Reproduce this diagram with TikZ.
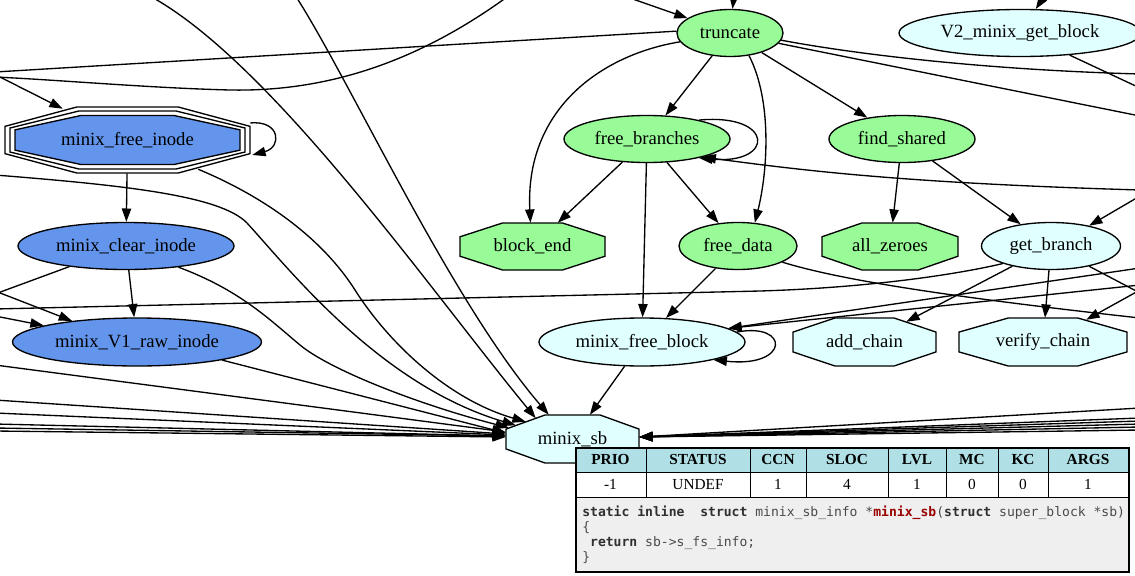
\documentclass[tikz,border=0pt]{standalone}
\usepackage{fontspec}
\setmainfont{Liberation Serif}
\newfontfamily\codefont{DejaVu Sans Mono}
\usetikzlibrary{arrows.meta,shapes.geometric,calc}
\definecolor{pgreen}{HTML}{98FB98}
\definecolor{lcyan}{HTML}{E0FFFF}
\definecolor{cblue}{HTML}{6495ED}
\definecolor{pblue}{HTML}{B0E0E6}
\definecolor{codebg}{HTML}{EFEFEF}
\definecolor{codefg}{HTML}{4A4A4A}
\definecolor{codekw}{HTML}{303030}
\definecolor{codefn}{HTML}{990000}
\newcommand\octshape[5]{%
  \path[#5] ({#1-0.207*#3},{#2-#4/2}) -- ({#1+0.207*#3},{#2-#4/2}) -- ({#1+#3/2},{#2-0.207*#4}) -- ({#1+#3/2},{#2+0.207*#4}) -- ({#1+0.207*#3},{#2+#4/2}) -- ({#1-0.207*#3},{#2+#4/2}) -- ({#1-#3/2},{#2+0.207*#4}) -- ({#1-#3/2},{#2-0.207*#4}) -- cycle;}
\newcommand\ckw[1]{\textcolor{codekw}{\textbf{#1}}}
\begin{document}
\begin{tikzpicture}[x=0.75pt,y=-0.75pt,
  nfont/.style={font=\fontsize{14}{16}\selectfont},
  sz/.style 2 args={minimum width=#1*0.75pt,minimum height=#2*0.75pt},
  ell/.style={ellipse,draw,line width=1pt,inner sep=0pt,nfont},
  obox/.style={rectangle,inner sep=0pt,nfont},
  ofill/.style={draw,line width=1pt},
  edge/.style={draw,line width=1pt},
  arr/.style={edge,-{Triangle[length=10pt,width=7pt]}},
  hcell/.style={draw,line width=0.75pt,fill=pblue,inner sep=0pt,minimum height=18.75pt,font=\bfseries\fontsize{11.5}{13}\selectfont},
  dcell/.style={draw,line width=0.75pt,fill=white,inner sep=0pt,minimum height=18.75pt,font=\fontsize{11.5}{13}\selectfont},
  cline/.style={anchor=base west,inner sep=0pt,text=codefg,font=\codefont\fontsize{9.8}{11}\selectfont}]
\useasboundingbox (0,0) rectangle (1135,575);
\clip (0,0) rectangle (1135,575);

% ---------- nodes ----------
\node[ell,fill=pgreen,sz={106}{47}] (tr) at (730,33) {truncate};
\node[ell,fill=lcyan,sz={242}{47}] (v2) at (1020,33) {V2\_minix\_get\_block};

\octshape{127.5}{140}{245}{66}{ofill}
\octshape{127.5}{140}{235}{58}{ofill}
\octshape{127.5}{140}{225}{49}{ofill,fill=cblue}
\node[obox,sz={245}{66}] (fi) at (127.5,140) {minix\_free\_inode};

\node[ell,fill=pgreen,sz={166}{47}] (fb) at (647,139) {free\_branches};
\node[ell,fill=pgreen,sz={146}{47}] (fs) at (902,139) {find\_shared};

\node[ell,fill=cblue,sz={216}{47}] (ci) at (126,246) {minix\_clear\_inode};
\octshape{532.5}{246.5}{145}{47}{ofill,fill=pgreen}
\node[obox,sz={145}{47}] (be) at (532.5,246.5) {block\_end};
\node[ell,fill=pgreen,sz={118}{47}] (fd) at (738,246) {free\_data};
\octshape{890}{246.5}{136}{47}{ofill,fill=pgreen}
\node[obox,sz={136}{47}] (az) at (890,246.5) {all\_zeroes};
\node[ell,fill=lcyan,sz={139}{47}] (gb) at (1051,246) {get\_branch};

\node[ell,fill=cblue,sz={249}{48}] (v1) at (137,342) {minix\_V1\_raw\_inode};
\node[ell,fill=lcyan,sz={206}{48}] (fblk) at (642,342) {minix\_free\_block};
\octshape{864.5}{342}{143}{48}{ofill,fill=lcyan}
\node[obox,sz={143}{48}] (ac) at (864.5,342) {add\_chain};
\octshape{1043}{342}{168}{48}{ofill,fill=lcyan}
\node[obox,sz={168}{48}] (vc) at (1043,342) {verify\_chain};

\octshape{572.5}{439}{133}{48}{ofill,fill=lcyan}
\node[obox,sz={133}{48}] (sb) at (572.5,439) {minix\_sb};

% ---------- free ends outside the frame ----------
\coordinate (tA) at (627,-3);
\coordinate (tB) at (734,-5);
\coordinate (tC) at (1045,-5);
\coordinate (tD) at (148,-5);
\coordinate (tE) at (295,-5);
\coordinate (tF) at (507,-3);
\coordinate (lF) at (-5,77);
\coordinate (lG) at (-5,74.5);
\coordinate (lTr) at (-5,72);
\coordinate (lB) at (-5,175);
\coordinate (lCi) at (-5,294);
\coordinate (lV1a) at (-5,291);
\coordinate (lV1b) at (-5,316);
\coordinate (lGb) at (-5,309);
\coordinate (rT1) at (1140,74);
\coordinate (rT2) at (1140,116);
\coordinate (rV2) at (1140,88);
\coordinate (rFb) at (1140,190);
\coordinate (rGb) at (1140,196);
\coordinate (rFk1) at (1140,268);
\coordinate (rFk2) at (1140,285);
\coordinate (rGb2) at (1140,293);
\coordinate (rVc) at (1140,290);
\coordinate (rFd) at (1140,318);

% ---------- edges ----------
\draw[arr] (tA) -- (tr);
\draw[arr] (tB) -- (tr);
\draw[arr] (tC) -- (v2);
\draw[arr] (tr) -- (fb);
\draw[arr] (tr) -- (fs);
\draw[arr] (tr.190) .. controls (600,55) and (525,110) .. (be.95);
\draw[arr] (tr.310) .. controls (772,100) and (768,170) .. (fd.54);
\draw[edge] (tr.352) .. controls (860,55) and (990,70) .. (rT1);
\draw[edge] (tr.348) -- (rT2);
\draw[edge] (tr.178) -- (lTr);
\draw[edge] (tF) .. controls (420,60) and (330,92) .. (230,90) .. controls (150,88) and (60,80) .. (lF);
\draw[edge] (v2.-24) -- (rV2);

\draw[arr] (lG) -- ($(fi.north west)+(58,2)$);
\draw[arr] ($(fi.east)+(0,-17)$) .. controls +(30,-3) and +(30,-8) .. ($(fi.east)+(2,15)$);
\draw[arr] (fi) -- (ci);
\draw[arr] (ci) -- (v1);
\draw[edge] (ci.200) -- (lCi);
\draw[arr] (lV1a) -- (v1.162);
\draw[arr] (lV1b) -- (v1.170);

\draw[arr] (fb.20) .. controls (775,113) and (775,165) .. (fb.-20);
\draw[arr] (rFb) .. controls (900,183) and (800,170) .. (fb.-18);
\draw[arr] (fb) -- (be);
\draw[arr] (fb) -- (fblk);
\draw[arr] (fb) -- (fd);
\draw[arr] (fs) -- (az);
\draw[arr] (fs) -- (gb);
\draw[arr] (rGb) -- (gb.28);

\draw[edge] (gb.200) .. controls (950,276) and (860,288) .. (760,291) -- (lGb);
\draw[arr] (gb) -- ($(ac.north east)+(-30,4)$);
\draw[arr] (gb) -- (vc);
\draw[edge] (gb.-28) -- (rGb2);
\draw[arr] (rVc) -- ($(vc.north east)+(-41,2)$);
\draw[edge] (fd.-20) .. controls (840,280) and (950,297) .. (rFd);
\draw[arr] (fd) -- (fblk);

\draw[arr] (rFk1) -- (fblk.9);
\draw[arr] (rFk2) -- (fblk.9);
\draw[arr] (fblk.6) .. controls (790,322) and (790,368) .. (fblk.-14);
\draw[arr] (fblk) -- (sb);

% fan into minix_sb from the left
\draw[arr] (tE) .. controls (350,80) and (450,300) .. ($(sb.north west)+(43,0)$);
\draw[arr] (tD) .. controls (270,60) and (430,290) .. ($(sb.north west)+(30,3.5)$);
\draw[arr] ($(fi.south east)+(-52,-4)$) .. controls (260,195) and (320,235) .. (355,290) .. controls (390,345) and (450,400) .. ($(sb.north west)+(20,7)$);
\draw[arr] (lB) .. controls (120,185) and (220,195) .. (247,223) .. controls (290,270) and (380,385) .. ($(sb.north west)+(10,10.5)$);
\draw[arr] (ci.-22) .. controls (240,290) and (270,320) .. (300,345) .. controls (330,370) and (420,405) .. ($(sb.north west)+(3,13)$);
\draw[arr] (v1.-12) -- ($(sb.west)+(0,-6)$);
\foreach \y/\o in {365/-7,400/-5,413/-4,424/-3,428/-3,431/-2}{
  \coordinate (l\y) at (-5,\y);
  \draw[arr] (l\y) -- ($(sb.west)+(0,\o)$);
}
% bundle from the right
\foreach \y in {408,418,421,424,427,430}{
  \coordinate (r\y) at (1140,\y);
  \draw[arr] (r\y) -- ($(sb.east)+(0,-2)$);
}

% ---------- info table ----------
\node[draw,line width=0.75pt,fill=codebg,anchor=north west,inner sep=0pt,sz={553}{74}] (cbox) at (575,497) {};
\foreach \n/\c/\w/\d in {PRIO/610.5/71/-1,STATUS/698/104/UNDEF,CCN/778/56/1,SLOC/847/82/4,LVL/917/58/1,MC/972/52/0,KC/1023/50/0,ARGS/1088/80/1}{
  \node[hcell,minimum width=\w*0.75pt] (h\n) at (\c,459.5) {\n};
  \node[dcell,minimum width=\w*0.75pt] (d\n) at (\c,484.5) {\d};
}
\node[draw,line width=1.2pt,anchor=north west,inner sep=0pt,sz={553}{124}] (tbl) at (575,447) {};
\node[cline] (c1) at (582,516) {\ckw{static inline}\ \ \ckw{struct} minix\_sb\_info *\textcolor{codefn}{\textbf{minix\_sb}}(\ckw{struct} super\_block *sb)};
\node[cline] (c2) at (582,531) {\{};
\node[cline] (c3) at (582,546) {\phantom{x}\ckw{return} sb->s\_fs\_info;};
\node[cline] (c4) at (582,561) {\}};
\end{tikzpicture}
\end{document}
